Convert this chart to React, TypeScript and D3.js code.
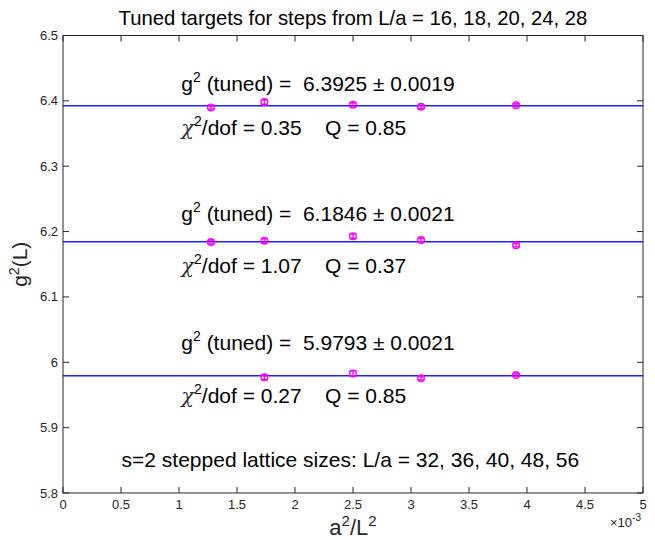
import React from "react";
import * as d3 from "d3";

const xValues = [0.00127551, 0.00173611, 0.0025, 0.00308642, 0.00390625];
const seriesTop = [6.3899, 6.3982, 6.3940, 6.3910, 6.3932];
const errTop = [0.0025, 0.0035, 0.003, 0.0025, 0.0022];
const seriesMid = [6.1840, 6.1860, 6.1930, 6.1870, 6.1790];
const errMid = [0.003, 0.003, 0.0035, 0.0025, 0.0025];
const seriesBot = [NaN, 5.9770, 5.9830, 5.9755, 5.9804];
const errBot = [0, 0.0035, 0.004, 0.0025, 0.002];
const fitValues = [6.3925, 6.1846, 5.9793];
const fitErrors = ["0.0019", "0.0021", "0.0021"];
const chiValues = ["0.35", "1.07", "0.27"];
const qValues = ["0.85", "0.37", "0.85"];
const gTextY = [6.4156, 6.2162, 6.0188];
const chiTextY = [6.3478, 6.1366, 5.9378];
const xTicks = [0, 0.5, 1, 1.5, 2, 2.5, 3, 3.5, 4, 4.5, 5];
const yTicks = [5.8, 5.9, 6.0, 6.1, 6.2, 6.3, 6.4, 6.5];

const W = 655, H = 540;
const L = 63, R = 643, T = 35.5, B = 493;
const font = "'Liberation Sans', Arial, Helvetica, sans-serif";
const axisColor = "#262626";
const pre = { whiteSpace: "pre" as const };

export default function App() {
  const x = d3.scaleLinear().domain([0, 0.005]).range([L, R]);
  const y = d3.scaleLinear().domain([5.8, 6.5]).range([B, T]);
  const tickLen = 6;
  const series = [
    { v: seriesTop, e: errTop },
    { v: seriesMid, e: errMid },
    { v: seriesBot, e: errBot },
  ];
  const textX = x(0.00102);
  return (
    <svg width={W} height={H} style={{ position: "absolute", left: 0, top: 0, background: "#fff" }}>
      <rect x={0} y={0} width={W} height={H} fill="#fff" />
      {fitValues.map((f, i) => (
        <line key={"f" + i} x1={L} x2={R} y1={y(f)} y2={y(f)} stroke="#1f1fff" strokeWidth={1.5} />
      ))}
      {series.map((s, si) =>
        s.v.map((v, i) => {
          if (isNaN(v)) return null;
          const cx = x(xValues[i]);
          const cy = y(v);
          const y1 = y(v + s.e[i]);
          const y2 = y(v - s.e[i]);
          return (
            <g key={si + "-" + i} stroke="#ff00ff" strokeWidth={1.4} fill="none">
              <line x1={cx} x2={cx} y1={y1} y2={y2} />
              <line x1={cx - 3.5} x2={cx + 3.5} y1={y1} y2={y1} />
              <line x1={cx - 3.5} x2={cx + 3.5} y1={y2} y2={y2} />
              <circle cx={cx} cy={cy} r={3.3} />
            </g>
          );
        })
      )}
      {fitValues.map((f, i) => (
        <g key={"a" + i} fontFamily={font} fontSize={21} fill="#000" style={pre}>
          <text x={textX} y={y(gTextY[i])} style={pre}>
            g<tspan dy={-9} fontSize={14}>2</tspan>
            <tspan dy={9}>{" (tuned) =  " + f.toFixed(4) + " \u00b1 " + fitErrors[i]}</tspan>
          </text>
          <text x={textX} y={y(chiTextY[i])} style={pre}>
            <tspan fontFamily="'DejaVu Serif', 'Liberation Serif', serif" fontStyle="italic" fill="#333">{"\u03c7"}</tspan>
            <tspan dy={-9} fontSize={14}>2</tspan>
            <tspan dy={9}>{"/dof = " + chiValues[i] + "    Q = " + qValues[i]}</tspan>
          </text>
        </g>
      ))}
      <text x={x(0.000505)} y={y(5.84)} fontFamily={font} fontSize={21} fill="#000">
        s=2 stepped lattice sizes: L/a = 32, 36, 40, 48, 56
      </text>
      <rect x={L} y={T} width={R - L} height={B - T} fill="none" stroke={axisColor} strokeWidth={1} />
      {xTicks.map((t) => (
        <g key={"xt" + t}>
          <line x1={x(t / 1000)} x2={x(t / 1000)} y1={B} y2={B - tickLen} stroke={axisColor} />
          <line x1={x(t / 1000)} x2={x(t / 1000)} y1={T} y2={T + tickLen} stroke={axisColor} />
          <text x={x(t / 1000)} y={B + 16} textAnchor="middle" fontFamily={font} fontSize={13} fill={axisColor}>
            {String(t)}
          </text>
        </g>
      ))}
      {yTicks.map((t) => (
        <g key={"yt" + t}>
          <line x1={L} x2={L + tickLen} y1={y(t)} y2={y(t)} stroke={axisColor} />
          <line x1={R} x2={R - tickLen} y1={y(t)} y2={y(t)} stroke={axisColor} />
          <text x={L - 5} y={y(t) + 4.5} textAnchor="end" fontFamily={font} fontSize={13} fill={axisColor}>
            {d3.format("~g")(t)}
          </text>
        </g>
      ))}
      <text x={R - 2} y={B + 34} textAnchor="end" fontFamily={font} fontSize={13} fill={axisColor}>
        {"\u00d710"}
        <tspan dy={-6} fontSize={10}>-3</tspan>
      </text>
      <text x={(L + R) / 2} y={25} textAnchor="middle" fontFamily={font} fontSize={20.3} fill="#000">
        Tuned targets for steps from L/a = 16, 18, 20, 24, 28
      </text>
      <text x={(L + R) / 2} y={535} textAnchor="middle" fontFamily={font} fontSize={22} fill={axisColor}>
        a<tspan dy={-9} fontSize={15}>2</tspan>
        <tspan dy={9}>/L</tspan>
        <tspan dy={-9} fontSize={15}>2</tspan>
      </text>
      <text transform={`translate(27, ${(T + B) / 2}) rotate(-90)`} textAnchor="middle" fontFamily={font} fontSize={21} fill={axisColor}>
        g<tspan dy={-8} fontSize={14}>2</tspan>
        <tspan dy={8}>(L)</tspan>
      </text>
    </svg>
  );
}
